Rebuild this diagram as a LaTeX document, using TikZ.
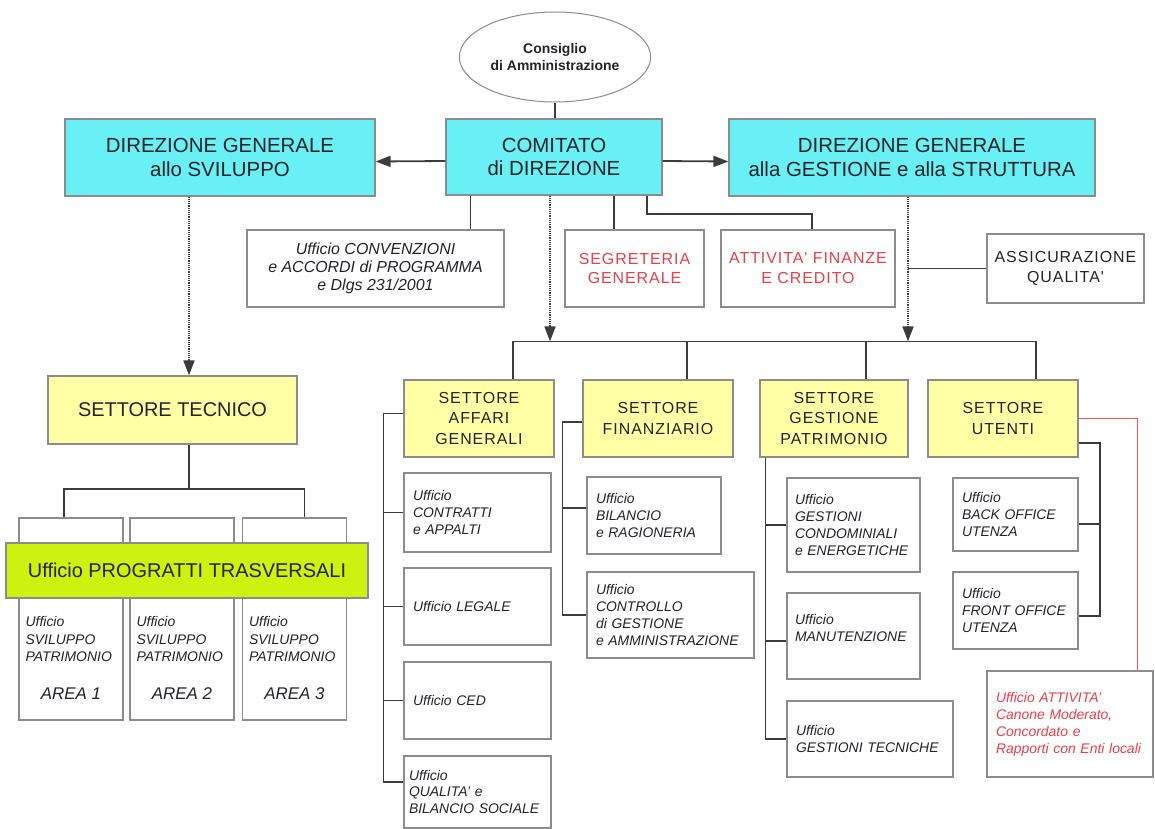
\documentclass[tikz,border=0pt]{standalone}
\usepackage{fontspec}
\setmainfont{Liberation Sans}
\newfontfamily\spacedsans[LetterSpace=6]{Liberation Sans}
\usepackage{tikz}
\usetikzlibrary{arrows.meta,shapes}

\definecolor{boxcyan}{RGB}{105,240,245}
\definecolor{boxyellow}{RGB}{255,255,165}
\definecolor{bandgreen}{RGB}{205,242,15}
\definecolor{bordergray}{RGB}{140,140,140}
\definecolor{linegray}{RGB}{60,60,60}
\definecolor{textdark}{RGB}{35,35,40}
\definecolor{redtext}{RGB}{232,62,72}
\definecolor{redline}{RGB}{235,85,85}

\begin{document}
\begin{tikzpicture}[
  box/.style={draw=bordergray,line width=1.2bp,text=textdark,inner sep=0pt},
  dirbox/.style={box,fill=boxcyan,align=center,font=\fontsize{20.5}{24}\selectfont},
  setbox/.style={box,fill=boxyellow,align=center,font=\spacedsans\fontsize{16}{20.5}\selectfont},
  capbox/.style={box,fill=white,align=center,font=\spacedsans\fontsize{16}{20}\selectfont},
  uffbox/.style={box,fill=white,align=left,inner xsep=9bp,font=\itshape\fontsize{14}{17}\selectfont},
  conn/.style={draw=linegray,line width=1.8bp},
  dotconn/.style={conn,dash pattern=on 1.2bp off 1bp,-{Triangle[width=11bp,length=15bp]}},
  arrconn/.style={conn,-{Triangle[width=11bp,length=15bp]}},
  redconn/.style={draw=redline,line width=1.1bp}
]
\useasboundingbox (0,0) rectangle (1155bp,-829bp);

% vertice
\node (cda) at (555bp,-57bp)[ellipse,draw=bordergray,line width=1bp,fill=white,minimum width=184bp,minimum height=90bp,align=center,text=textdark,font=\bfseries\fontsize{14}{18}\selectfont] {Consiglio\\di Amministrazione};
\node (cdd) at (554bp,-157bp)[dirbox,minimum width=216bp,minimum height=76bp] {COMITATO\\di DIREZIONE};
\node (dgs) at (220bp,-157.5bp)[dirbox,minimum width=310bp,minimum height=77bp] {DIREZIONE GENERALE\\allo SVILUPPO};
\node (dgg) at (912bp,-157.5bp)[dirbox,minimum width=366bp,minimum height=77bp] {DIREZIONE GENERALE\\alla GESTIONE e alla STRUTTURA};

% staff
\node (conv) at (375.5bp,-268.5bp)[box,fill=white,align=center,minimum width=257bp,minimum height=77bp,font=\itshape\fontsize{16}{18}\selectfont] {Ufficio CONVENZIONI\\e ACCORDI di PROGRAMMA\\e Dlgs 231/2001};
\node (segr) at (634.5bp,-268.5bp)[capbox,text=redtext,minimum width=139bp,minimum height=77bp] {SEGRETERIA\\GENERALE};
\node (afin) at (808bp,-268.5bp)[capbox,text=redtext,minimum width=174bp,minimum height=77bp] {ATTIVITA' FINANZE\\E CREDITO};
\node (assq) at (1065.5bp,-268.5bp)[capbox,minimum width=157bp,minimum height=69bp] {ASSICURAZIONE\\QUALITA'};

% settori
\node (sag) at (479bp,-418.5bp)[setbox,minimum width=150bp,minimum height=77bp] {SETTORE\\AFFARI\\GENERALI};
\node (sfin) at (658bp,-418.5bp)[setbox,minimum width=150bp,minimum height=77bp] {SETTORE\\FINANZIARIO};
\node (sgp) at (834bp,-418.5bp)[setbox,minimum width=148bp,minimum height=77bp] {SETTORE\\GESTIONE\\PATRIMONIO};
\node (sut) at (1003bp,-418.5bp)[setbox,minimum width=150bp,minimum height=77bp] {SETTORE\\UTENTI};
\node (st) at (172.5bp,-410bp)[setbox,font=\fontsize{20}{24}\selectfont,minimum width=249bp,minimum height=68bp] {SETTORE TECNICO};

% uffici
\node (contr) at (477.5bp,-512.5bp)[uffbox,text width=129bp,minimum height=79bp] {Ufficio\\CONTRATTI\\e APPALTI};
\node (legale) at (477.5bp,-606.5bp)[uffbox,text width=129bp,minimum height=77bp] {Ufficio LEGALE};
\node (ced) at (477.5bp,-700.5bp)[uffbox,text width=129bp,minimum height=77bp] {Ufficio CED};
\node (qual) at (477.5bp,-792bp)[uffbox,inner xsep=5bp,text width=137bp,minimum height=72bp] {Ufficio\\QUALITA' e\\BILANCIO SOCIALE};
\node (bil) at (654bp,-515.5bp)[uffbox,text width=116bp,minimum height=77bp] {Ufficio\\BILANCIO\\e RAGIONERIA};
\node (ctrl) at (670.5bp,-615bp)[uffbox,text width=149bp,minimum height=86bp] {Ufficio\\CONTROLLO\\di GESTIONE\\e AMMINISTRAZIONE};
\node (gcond) at (853.5bp,-525bp)[uffbox,inner xsep=8bp,text width=117bp,minimum height=94bp] {Ufficio\\GESTIONI\\CONDOMINIALI\\e ENERGETICHE};
\node (manut) at (853.5bp,-636bp)[uffbox,inner xsep=8bp,text width=117bp,minimum height=86bp] {Ufficio\\MANUTENZIONE\\\mbox{}};
\node (gtec) at (870bp,-739bp)[uffbox,text width=148bp,minimum height=76bp] {Ufficio\\GESTIONI TECNICHE};
\node (back) at (1015.5bp,-514.5bp)[uffbox,text width=107bp,minimum height=73bp] {Ufficio\\BACK OFFICE\\UTENZA};
\node (front) at (1015.5bp,-610.5bp)[uffbox,text width=107bp,minimum height=77bp] {Ufficio\\FRONT OFFICE\\UTENZA};
\node (uatt) at (1070bp,-724bp)[uffbox,text=redtext,text width=148bp,minimum height=106bp] {Ufficio ATTIVITA'\\Canone Moderato,\\Concordato e\\Rapporti con Enti locali};

% aree del settore tecnico
\foreach \i/\x in {1/71,2/182,3/294.5}{
  \node (ar\i) at (\x bp,-619bp)[box,fill=white,minimum width=104bp,minimum height=202bp] {};
  \node (art\i) at ([xshift=7bp,yshift=-99bp]ar\i.north west)[anchor=north west,align=left,inner sep=0pt,text=textdark,font=\itshape\fontsize{14}{17.5}\selectfont] {Ufficio\\SVILUPPO\\PATRIMONIO};
  \node (arn\i) at (\x bp,-694bp)[inner sep=0pt,text=textdark,font=\itshape\fontsize{17}{20}\selectfont] {AREA \i};
}
\node (upt) at (187bp,-570.5bp)[box,fill=bandgreen,minimum width=362bp,minimum height=55bp,font=\fontsize{20}{24}\selectfont] {Ufficio PROGRATTI TRASVERSALI};

% collegamenti in alto
\draw [conn] (cda.south) -- (cda.south |- cdd.north);
\draw [arrconn] ([yshift=-4bp]cdd.west) -- ([yshift=-4bp]dgs.east);
\draw [arrconn] ([yshift=-4bp]cdd.east) -- ([yshift=-4bp]dgg.west);
\draw [conn] ([xshift=25bp]cdd.south west) -- ([xshift=25bp]cdd.south west |- conv.north);
\draw [conn] ([xshift=-49bp]cdd.south east) -- ([xshift=-49bp]cdd.south east |- segr.north);
\draw [conn] ([xshift=-16bp]cdd.south east) -- ++(0,-18bp) -| ([xshift=4bp]afin.north);
\draw [conn] ([xshift=-4bp]dgg.south |- assq.west) -- (assq.west);

% linea dei settori
\coordinate (busL) at ([xshift=34bp,yshift=38bp]sag.north);
\coordinate (busR) at ([xshift=33bp,yshift=38bp]sut.north);
\draw [conn] (busL) -- (busR);
\draw [conn] (busL) -- ([xshift=34bp]sag.north);
\draw [conn] ([xshift=29bp]sfin.north |- busL) -- ([xshift=29bp]sfin.north);
\draw [conn] ([xshift=32bp]sgp.north |- busL) -- ([xshift=32bp]sgp.north);
\draw [conn] (busR) -- ([xshift=33bp]sut.north);
\draw [dotconn] ([xshift=-4bp]cdd.south) -- ([xshift=-4bp]cdd.south |- busL);
\draw [dotconn] ([xshift=-4bp]dgg.south) -- ([xshift=-4bp]dgg.south |- busL);

% settore affari generali
\coordinate (sagbar) at ([xshift=-20bp,yshift=5bp]sag.west);
\draw [conn] ([yshift=5bp]sag.west) -- (sagbar) |- ([yshift=10bp]qual.west);
\draw [conn] (sagbar |- contr.west) -- (contr.west);
\draw [conn] (sagbar |- legale.west) -- (legale.west);
\draw [conn] (sagbar |- ced.west) -- (ced.west);

% settore finanziario
\coordinate (sfbar) at ([xshift=-20bp,yshift=-3.5bp]sfin.west);
\draw [conn] ([yshift=-3.5bp]sfin.west) -- (sfbar) |- (ctrl.west);
\draw [conn] ([yshift=7.5bp]sfbar |- bil.west) -- ([yshift=7.5bp]bil.west);

% settore gestione patrimonio
\draw [conn] ([xshift=6bp]sgp.south west) |- (gtec.west);
\draw [conn] ([xshift=6bp]sgp.south west |- gcond.west) -- (gcond.west);
\draw [conn] ([xshift=6bp,yshift=-5bp]sgp.south west |- manut.west) -- ([yshift=-5bp]manut.west);

% settore utenti
\coordinate (subar) at ([xshift=21bp,yshift=-24.5bp]sut.east);
\draw [conn] ([yshift=-24.5bp]sut.east) -- (subar) |- ([yshift=-5.5bp]front.east);
\draw [conn] ([yshift=-9.5bp]subar |- back.east) -- ([yshift=-9.5bp]back.east);
\draw [redconn] (sut.east) -| ([xshift=-16bp]uatt.north east);

% settore tecnico
\draw [dotconn] ([xshift=-31bp]dgs.south) -- ([xshift=-31bp]dgs.south |- st.north);
\draw [conn] ([xshift=16.5bp]st.south) -- ++(0,-44bp) coordinate (stj);
\draw [conn] ([xshift=-7bp]ar1.north) |- (stj) -| ([xshift=10bp]ar3.north);
\end{tikzpicture}
\end{document}
